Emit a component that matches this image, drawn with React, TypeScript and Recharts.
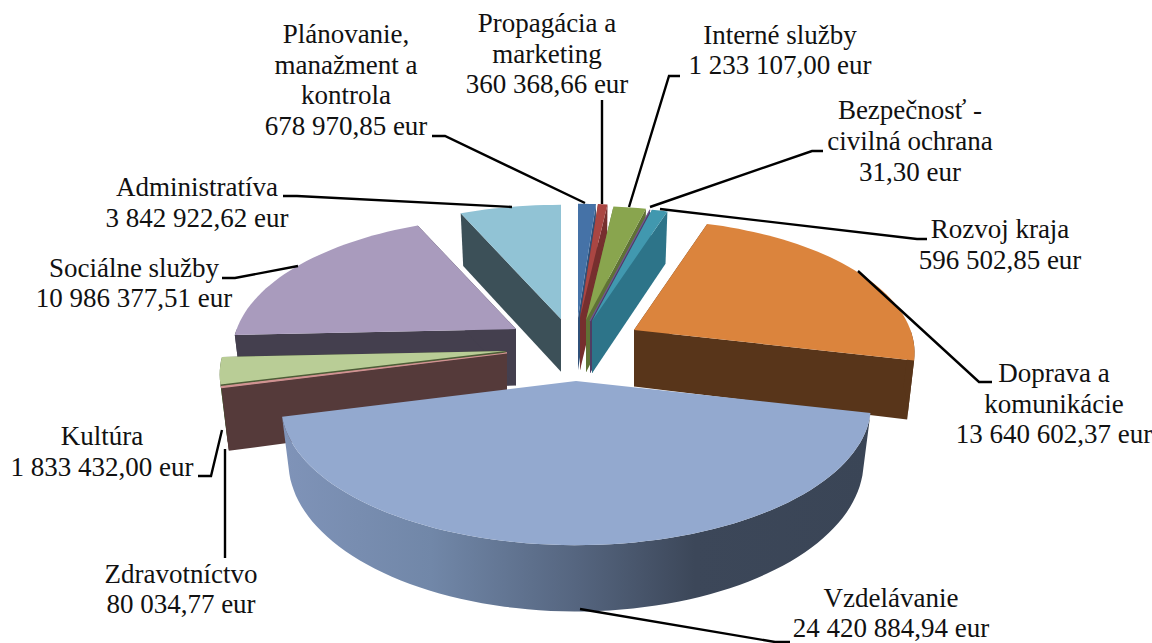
import React from "react";
import { PieChart, Pie } from "recharts";

// ---- data ----
const categories: string[][] = [
  ["Plánovanie,", "manažment a", "kontrola"],
  ["Propagácia a", "marketing"],
  ["Interné služby"],
  ["Bezpečnosť -", "civilná ochrana"],
  ["Rozvoj kraja"],
  ["Doprava a", "komunikácie"],
  ["Vzdelávanie"],
  ["Zdravotníctvo"],
  ["Kultúra"],
  ["Sociálne služby"],
  ["Administratíva"],
];
const amounts: number[] = [
  678970.85, 360368.66, 1233107.0, 31.3, 596502.85, 13640602.37,
  24420884.94, 80034.77, 1833432.0, 10986377.51, 3842922.62,
];

// ---- styles ----
const topColors = ["#4572a7", "#aa4643", "#89a54e", "#71588f", "#4198af", "#db843d", "#93a9cf", "#d19392", "#b9cd96", "#a99bbd", "#91c3d5"];
const sideColors = ["#2f5079", "#762f2e", "#5f7235", "#4f3d64", "#2d7489", "#58351a", "url(#wallGrad)", "#553a3a", "#4d5c37", "#443f4e", "#3c5058"];
// apex of every exploded slice on the page: [x, y, radius scale, depth scale]
const apex: number[][] = [
  [578, 318, 1, 0.95], [580, 318, 1, 0.95], [586, 320, 1, 0.95], [590, 321, 1, 0.95], [592, 321, 1, 0.95],
  [634, 330, 0.97, 1.03], [576, 381, 1.02, 1], [507, 353, 0.99, 1.1], [506, 351, 0.99, 1], [516, 329, 0.98, 1.03], [561, 319, 1, 0.96],
];
const layers: number[][] = [[9, 10, 0, 1, 2, 3, 4, 5], [8], [7], [6]];
// label layout: centre x, first baseline, line height
const labelPos: number[][] = [
  [346, 43, 30.7], [547, 32, 30.5], [780, 44, 30], [910, 119, 31], [1000, 238, 31], [1054, 382, 30.5],
  [891, 607, 30], [181, 583, 30], [102, 445, 31], [134, 277, 30], [197, 196, 31],
];
const leaders: number[][][] = [
  [[432, 136], [445, 136], [585, 203]],
  [[602, 100], [602, 204]],
  [[680, 76], [669, 76], [629, 207]],
  [[823, 151], [812, 151], [650, 207]],
  [[927, 239], [917, 239], [660, 209]],
  [[992, 382], [979, 382], [858, 271]],
  [[790, 642], [775, 642], [580, 609]],
  [[225, 449], [225, 558]],
  [[198, 476], [211, 476], [222, 430]],
  [[222, 278], [235, 278], [298, 266]],
  [[283, 196], [297, 196], [512, 207]],
];

const RX = 285, RY = 133.6, K = 0.17, DEPTH = 55, BASE = 0.975;

const chartData = categories.map((c, i) => ({ name: c.join(" "), value: amounts[i] }));

const formatEur = (v: number) => {
  const [a, b] = v.toFixed(2).split(".");
  return a.replace(/\B(?=(\d{3})+$)/g, " ") + "," + b + " eur";
};

const project = (i: number, deg: number, r: number, down: number): [number, number] => {
  const [ax, ay, sc, ds] = apex[i];
  const t = (deg * Math.PI) / 180;
  const u = Math.sin(t) * r, w = Math.cos(t) * r;
  const s = 1 / (1 + K * w);
  const xs = down ? BASE : 1;
  return [ax + RX * sc * u * s * xs, ay - RY * sc * w * s + down * DEPTH * ds * Math.max(1, s)];
};
const pathOf = (pts: [number, number][]) =>
  "M" + pts.map((p) => p[0].toFixed(1) + "," + p[1].toFixed(1)).join("L") + "Z";
const arc = (i: number, a: number, b: number, r: number, down: number) => {
  const n = Math.max(1, Math.ceil((b - a) / 2));
  const out: [number, number][] = [];
  for (let k = 0; k <= n; k++) out.push(project(i, a + ((b - a) * k) / n, r, down));
  return out;
};

const makeShape = (layer: number[]) => (props: any) => {
  const i: number = props.index ?? chartData.findIndex((d) => d.name === props.name);
  if (!layer.includes(i)) return <g />;
  const t1 = 90 - props.startAngle;
  const t2 = 90 - props.endAngle;
  const top = topColors[i], side = sideColors[i];
  const thin = t2 - t1 < 1;
  const cut = (t: number) =>
    pathOf([project(i, 0, 0, 0), project(i, t, 1, 0), project(i, t, 1, 1), project(i, 0, 0, 1)]);
  const wA = Math.max(t1, 90), wB = Math.min(t2, 270);
  return (
    <g>
      {i === 6 && (
        <defs>
          <linearGradient id="wallGrad" gradientUnits="userSpaceOnUse" x1="285" y1="0" x2="870" y2="0">
            <stop offset="0" stopColor="#7f93b8" />
            <stop offset="0.25" stopColor="#7187a8" />
            <stop offset="0.5" stopColor="#55657f" />
            <stop offset="0.7" stopColor="#3c4759" />
            <stop offset="1" stopColor="#3a4556" />
          </linearGradient>
        </defs>
      )}
      {i !== 6 && <path d={cut(t1)} fill={side} />}
      {i !== 6 && <path d={cut(t2)} fill={side} />}
      {wB > wA && (
        <path d={pathOf([...arc(i, wA, wB, 1, 0), ...arc(i, wA, wB, 1, 1).reverse()])} fill={side} />
      )}
      <path
        d={pathOf([project(i, 0, 0, 0), ...arc(i, t1, t2, 1, 0)])}
        fill={top}
        stroke={thin ? top : "none"}
        strokeWidth={thin ? 1.2 : 0}
      />
    </g>
  );
};

const renderLabel = (props: any) => {
  const i: number = props.index;
  const [cx, y0, lh] = labelPos[i];
  const lines = [...categories[i], formatEur(amounts[i])];
  return (
    <g key={i}>
      <polyline
        points={leaders[i].map((p) => p.join(",")).join(" ")}
        fill="none"
        stroke="#000"
        strokeWidth={2.4}
      />
      <text textAnchor="middle" fontFamily="'Liberation Serif'" fontSize={27} fill="#111">
        {lines.map((l, k) => (
          <tspan key={k} x={cx} y={y0 + k * lh}>
            {l}
          </tspan>
        ))}
      </text>
    </g>
  );
};

export default function App() {
  return (
    <div style={{ position: "absolute", left: 0, top: 0, width: 1152, height: 643, background: "#fff" }}>
      <PieChart width={1152} height={643} margin={{ top: 0, right: 0, bottom: 0, left: 0 }}>
        {layers.map((layer, n) => (
          <Pie
            key={n}
            data={chartData}
            dataKey="value"
            nameKey="name"
            cx={576}
            cy={320}
            outerRadius={200}
            startAngle={90}
            endAngle={-270}
            paddingAngle={0}
            isAnimationActive={false}
            shape={makeShape(layer)}
            label={n === layers.length - 1 ? renderLabel : false}
            labelLine={false}
            stroke="none"
          />
        ))}
      </PieChart>
    </div>
  );
}
